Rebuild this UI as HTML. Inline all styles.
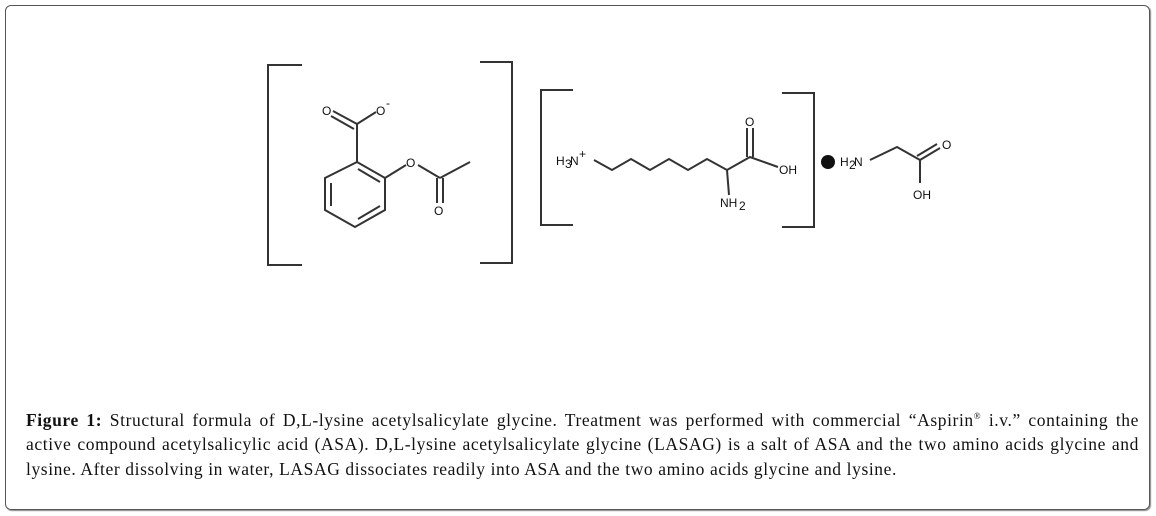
<!DOCTYPE html>
<html><head><style>
body{margin:0;background:#fff;width:1156px;height:516px;overflow:hidden;position:relative}
.frame{position:absolute;left:5px;top:5px;width:1143px;height:503px;border:1.5px solid #555;border-radius:6px;box-shadow:1px 1px 1px #888}
.cap{position:absolute;left:26px;top:404px;width:1113px;font-family:"Liberation Serif",serif;font-size:17.5px;line-height:24.5px;color:#111;letter-spacing:0.6px}
.cap div{text-align:justify;text-align-last:justify;white-space:nowrap}
.cap div.l{text-align-last:left}
svg{position:absolute;left:0;top:0}
text{font-family:"Liberation Sans",sans-serif;font-size:12px;fill:#111}
</style></head><body>
<div class="frame"></div>
<svg width="1156" height="400" stroke="#333" stroke-width="2" fill="none">
<polyline points="302,65 268,65 268,265 302,265"/>
<polyline points="480,62 512,62 512,263 480,263"/>
<polyline points="573,90 541,90 541,225 573,225"/>
<polyline points="782,93 814,93 814,227 782,227"/>
<polygon points="357,162 385,178 385,210 355,227 325,210 325,178"/>
<line x1="331" y1="183" x2="331" y2="206"/>
<line x1="358" y1="169" x2="380" y2="182"/>
<line x1="358" y1="219" x2="380" y2="206"/>
<line x1="357" y1="162" x2="357" y2="124"/>
<line x1="357" y1="124" x2="333" y2="111"/>
<line x1="354" y1="129" x2="331" y2="116"/>
<line x1="357" y1="124" x2="376" y2="112"/>
<line x1="385" y1="178" x2="406" y2="165"/>
<line x1="418" y1="165" x2="440" y2="178"/>
<line x1="440" y1="178" x2="470" y2="162"/>
<line x1="437" y1="178" x2="437" y2="203"/>
<line x1="443" y1="178" x2="443" y2="203"/>
<polyline points="594,160 612,170 631,159 650,170 669,159 688,170 707,159 727,170 750,157 778,167"/>
<line x1="727" y1="170" x2="729" y2="195"/>
<line x1="747" y1="157" x2="747" y2="128"/>
<line x1="753" y1="157" x2="753" y2="128"/>
<polyline points="870,160 897,147 920,160"/>
<line x1="920" y1="160" x2="940" y2="148"/>
<line x1="917" y1="156" x2="937" y2="144"/>
<line x1="920" y1="160" x2="920" y2="183"/>
<circle cx="828" cy="162" r="7" fill="#111" stroke="none"/>
</svg>
<svg width="1156" height="400">
<text x="322" y="115">O</text>
<text x="376" y="115">O</text><text x="386" y="107" font-size="8">-</text>
<text x="406" y="167">O</text>
<text x="434" y="215">O</text>
<text x="556" y="165">H</text><text x="565" y="168" font-size="7">3</text><text x="570" y="165">N</text><text x="579" y="158" font-size="8">+</text>
<text x="745" y="126">O</text>
<text x="779" y="174">OH</text>
<text x="720" y="207">NH</text><text x="739" y="210" font-size="7">2</text>
<text x="840" y="166">H</text><text x="849" y="169" font-size="7">2</text><text x="854" y="166">N</text>
<text x="942" y="149">O</text>
<text x="913" y="199">OH</text>
</svg>
<div class="cap">
<div><b>Figure 1:</b> Structural formula of D,L-lysine acetylsalicylate glycine. Treatment was performed with commercial “Aspirin<sup style="font-size:9px">®</sup> i.v.” containing the</div>
<div>active compound acetylsalicylic acid (ASA). D,L-lysine acetylsalicylate glycine (LASAG) is a salt of ASA and the two amino acids glycine and</div>
<div class="l">lysine. After dissolving in water, LASAG dissociates readily into ASA and the two amino acids glycine and lysine.</div>
</div>
</body></html>
